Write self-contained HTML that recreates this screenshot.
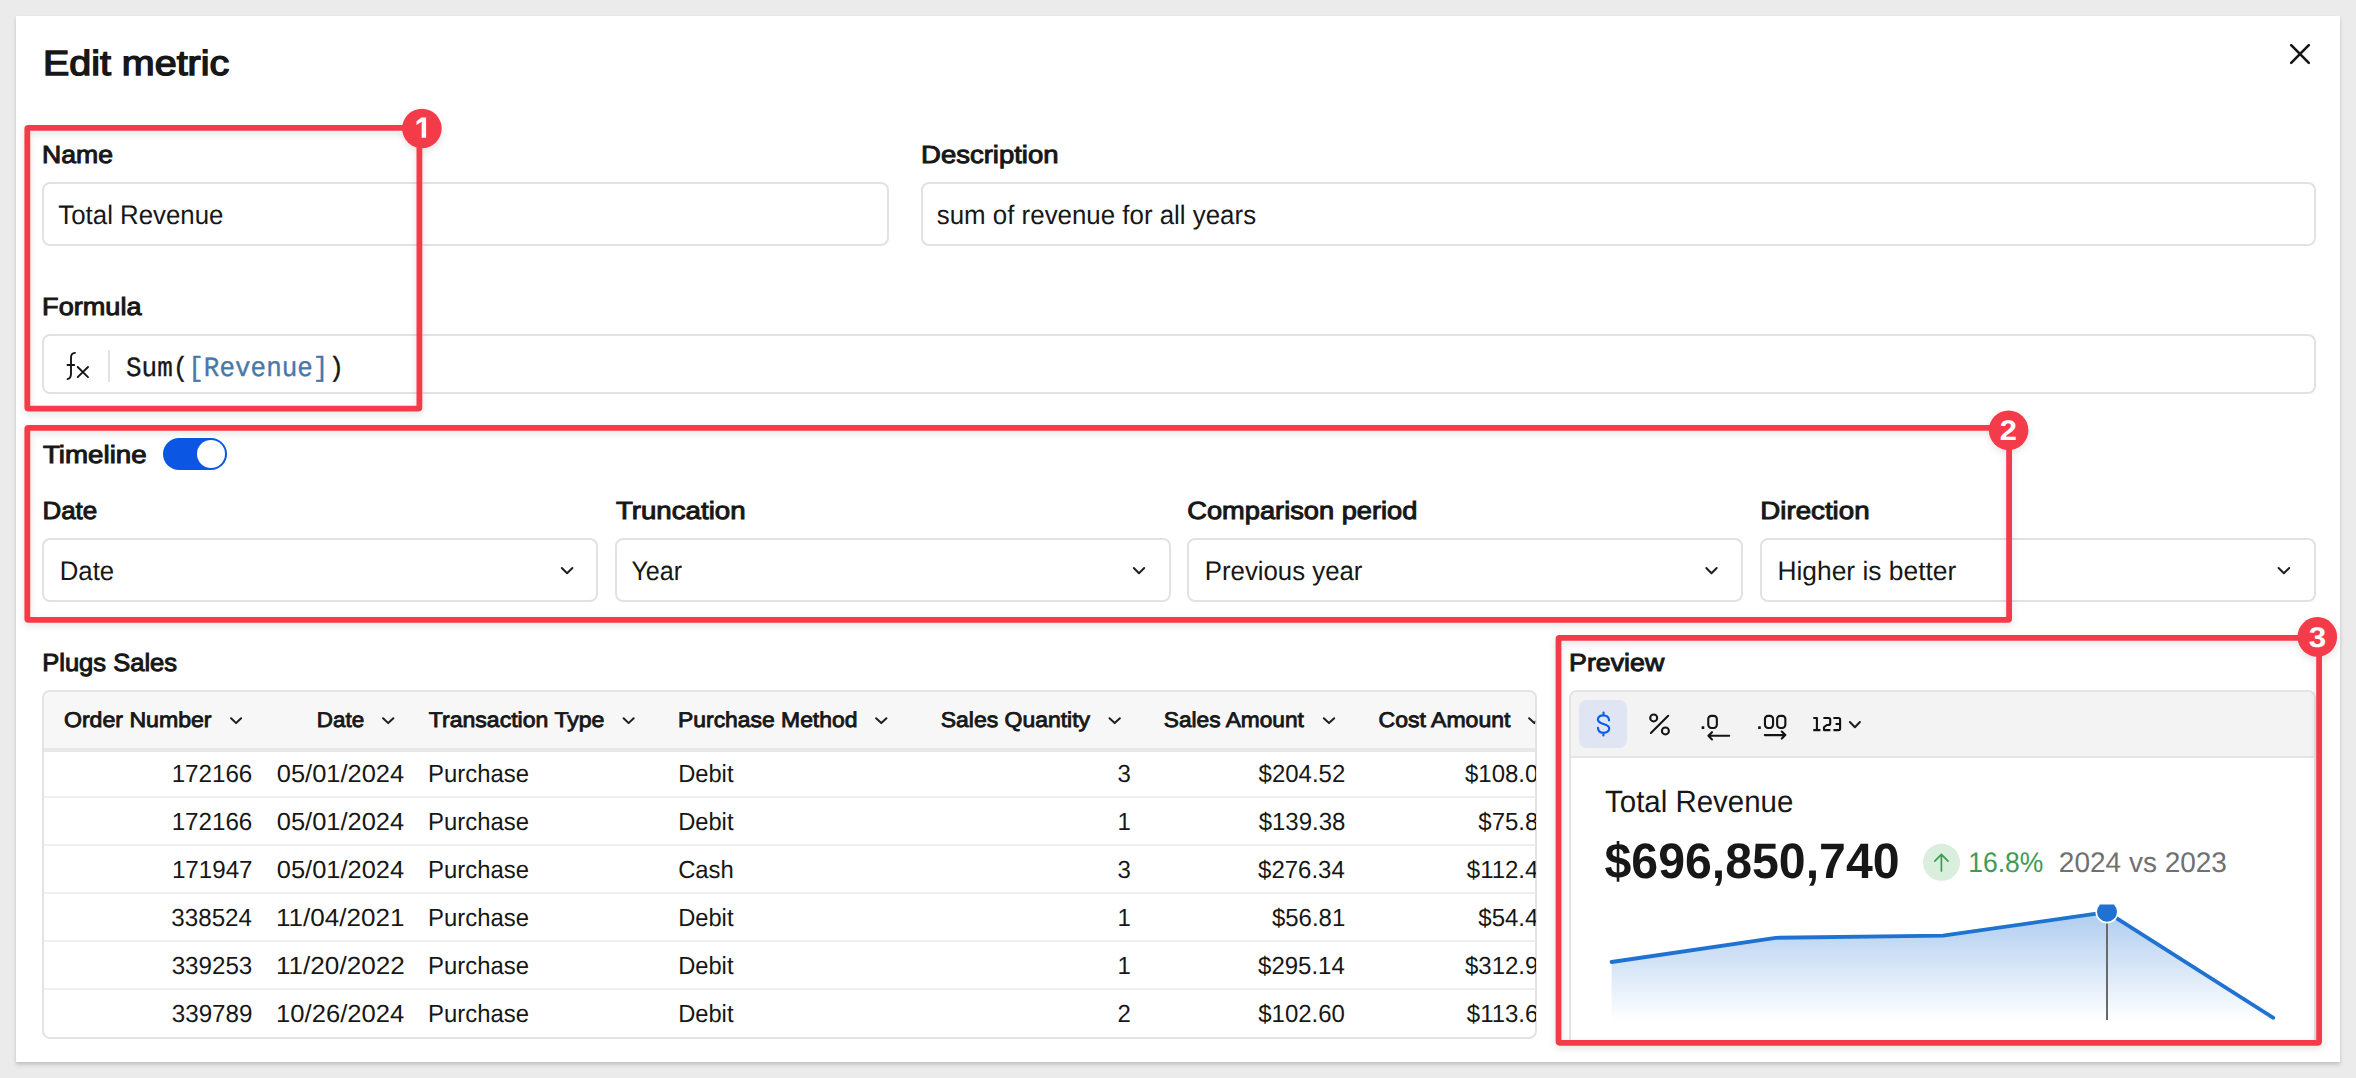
<!DOCTYPE html><html><head><meta charset="utf-8"><title>Edit metric</title><style>
html,body{margin:0;padding:0}
body{width:2356px;height:1078px;overflow:hidden;background:#ebebeb;position:relative;font-family:"Liberation Sans",sans-serif;color:#171717;text-rendering:geometricPrecision}
.modal{position:absolute;left:16px;top:16px;width:2324px;height:1046px;background:#fff;box-shadow:0 3px 4px rgba(0,0,0,.14),0 1px 3px rgba(0,0,0,.05)}
.box{position:absolute;box-sizing:border-box;border:2px solid #e2e2e2;border-radius:8px;background:#fff}
.t{position:absolute;white-space:nowrap;line-height:1;transform-origin:0 0;display:block}
.clip{position:absolute;left:0;top:0;height:1078px;overflow:hidden}
.clip .t{}
svg{position:absolute;left:0;top:0}
.tbl{position:absolute;left:42px;top:690px;width:1495px;height:349px;box-sizing:border-box;border:2px solid #e3e3e3;border-radius:8px;overflow:hidden;background:#fff}
.th{position:absolute;left:0;top:0;right:0;height:56px;background:#f7f7f7;border-bottom:4px solid #e8e8e8}
.rl{position:absolute;left:0;right:0;height:2px;background:#efefef}
.pv{position:absolute;left:1569px;top:690px;width:747px;height:353px;box-sizing:border-box;border:2px solid #e3e3e3;border-bottom:none;border-radius:8px 8px 0 0;overflow:hidden;background:#fff}
.tb{position:absolute;left:0;top:0;right:0;height:64px;background:#f3f3f3;border-bottom:2px solid #e4e4e4}
.cur{position:absolute;left:1579px;top:700px;width:48px;height:48px;border-radius:8px;background:#dfe5f3}
.tog{position:absolute;left:163px;top:438px;width:64px;height:32px;border-radius:16px;background:#0b57e3}
.tog i{position:absolute;left:34px;top:2px;width:28px;height:28px;border-radius:14px;background:#fff}
.dv{position:absolute;left:108px;top:350px;width:2px;height:32px;background:#e2e2e2}
</style></head><body>
<div class="modal"></div>
<div class="box" style="left:42px;top:182px;width:847px;height:64px"></div>
<div class="box" style="left:921px;top:182px;width:1395px;height:64px"></div>
<div class="box" style="left:42px;top:334px;width:2274px;height:60px"></div>
<div class="dv"></div>
<div class="box" style="left:42px;top:538px;width:556px;height:64px"></div>
<div class="box" style="left:615px;top:538px;width:556px;height:64px"></div>
<div class="box" style="left:1187px;top:538px;width:556px;height:64px"></div>
<div class="box" style="left:1760px;top:538px;width:556px;height:64px"></div>
<div class="tog"><i></i></div>
<div class="tbl"><div class="th"></div><div class="rl" style="top:104px"></div><div class="rl" style="top:152px"></div><div class="rl" style="top:200px"></div><div class="rl" style="top:248px"></div><div class="rl" style="top:296px"></div></div>
<div class="pv"><div class="tb"></div></div><div class="cur"></div>
<svg width="2356" height="1078" viewBox="0 0 2356 1078"><defs><linearGradient id="ag" x1="0" y1="912" x2="0" y2="1021" gradientUnits="userSpaceOnUse"><stop offset="0" stop-color="#1f72d2" stop-opacity=".36"/><stop offset="1" stop-color="#1f72d2" stop-opacity="0"/></linearGradient><filter id="ds" x="-5%" y="-5%" width="110%" height="115%"><feDropShadow dx="0" dy="3" stdDeviation="3.5" flood-color="#000" flood-opacity=".11"/></filter><clipPath id="cc"><rect x="1571" y="904.4" width="743" height="140"/></clipPath></defs><path d="M2291.2 45.2L2308.8 62.8M2308.8 45.2L2291.2 62.8" stroke="#161616" stroke-width="2.6" stroke-linecap="round"/><path d="M75 352.9C72.400 353.100 71 354.600 71 357.600V373.400C71 377 69.600 378.600 67.500 379.100M67.500 365H74.200" fill="none" stroke="#161616" stroke-width="1.9" stroke-linecap="round"/><path d="M77.700 367L88 377.100M88 367L77.700 377.100" stroke="#161616" stroke-width="1.9" stroke-linecap="round"/><path d="M561.8 568.0L567.1 573.2L572.4 568.0" fill="none" stroke="#1f1f1f" stroke-width="2" stroke-linecap="round" stroke-linejoin="round"/><path d="M1133.8 568.0L1139.0 573.2L1144.2 568.0" fill="none" stroke="#1f1f1f" stroke-width="2" stroke-linecap="round" stroke-linejoin="round"/><path d="M1706.3 568.0L1711.5 573.2L1716.7 568.0" fill="none" stroke="#1f1f1f" stroke-width="2" stroke-linecap="round" stroke-linejoin="round"/><path d="M2278.6 568.0L2283.9 573.2L2289.2 568.0" fill="none" stroke="#1f1f1f" stroke-width="2" stroke-linecap="round" stroke-linejoin="round"/><g clip-path="url(#tc)"><clipPath id="tc"><rect x="44" y="692" width="1491.3" height="345"/></clipPath><path d="M231.1 718.2L236.1 723.1L241.1 718.2" fill="none" stroke="#1f1f1f" stroke-width="2" stroke-linecap="round" stroke-linejoin="round"/><path d="M383.1 718.2L388.2 723.1L393.4 718.2" fill="none" stroke="#1f1f1f" stroke-width="2" stroke-linecap="round" stroke-linejoin="round"/><path d="M623.6 718.2L628.6 723.1L633.7 718.2" fill="none" stroke="#1f1f1f" stroke-width="2" stroke-linecap="round" stroke-linejoin="round"/><path d="M876.1 718.2L881.3 723.1L886.5 718.2" fill="none" stroke="#1f1f1f" stroke-width="2" stroke-linecap="round" stroke-linejoin="round"/><path d="M1109.5 718.2L1114.7 723.1L1119.9 718.2" fill="none" stroke="#1f1f1f" stroke-width="2" stroke-linecap="round" stroke-linejoin="round"/><path d="M1323.8 718.2L1329.0 723.1L1334.2 718.2" fill="none" stroke="#1f1f1f" stroke-width="2" stroke-linecap="round" stroke-linejoin="round"/><path d="M1529.1 718.2L1534.3 723.1L1539.5 718.2" fill="none" stroke="#1f1f1f" stroke-width="2" stroke-linecap="round" stroke-linejoin="round"/></g><path d="M1609 720.300C1609 717.300 1606.600 715.300 1603.400 715.300C1600.200 715.300 1597.900 717 1597.900 719.600C1597.900 725.400 1609.200 722.600 1609.200 728.600C1609.200 731.100 1606.800 732.800 1603.400 732.800C1600 732.800 1598 730.700 1598 727.800M1603.500 712.600V715.200M1603.400 732.900V735.500" fill="none" stroke="#0d5be8" stroke-width="2.15" stroke-linecap="round" stroke-linejoin="round"/><circle cx="1653.7" cy="717.9" r="3.5" fill="none" stroke="#141414" stroke-width="2.05"/><circle cx="1665.4" cy="730.9" r="3.5" fill="none" stroke="#141414" stroke-width="2.05"/><path d="M1650.900 733L1668.200 715.800" stroke="#141414" stroke-width="2.05" stroke-linecap="round"/><rect x="1701.6" y="726.3" width="2.7" height="2.7" rx=".5" fill="#141414"/><rect x="1708.25" y="715.85" width="8.60" height="12.10" rx="3.1" fill="none" stroke="#141414" stroke-width="2.1"/><path d="M1729.200 735.800H1708.800M1712 732.200L1708.400 735.800L1712 739.400" fill="none" stroke="#141414" stroke-width="2.1" stroke-linecap="round" stroke-linejoin="round"/><rect x="1758.1" y="726.3" width="2.7" height="2.7" rx=".5" fill="#141414"/><rect x="1764.95" y="715.85" width="8.10" height="12.10" rx="3.1" fill="none" stroke="#141414" stroke-width="2.1"/><rect x="1777.15" y="715.85" width="8.20" height="12.10" rx="3.1" fill="none" stroke="#141414" stroke-width="2.1"/><path d="M1764.800 735.100H1785M1781.800 731.600L1785.300 735.100L1781.800 738.600" fill="none" stroke="#141414" stroke-width="2.1" stroke-linecap="round" stroke-linejoin="round"/><path d="M1813.300 718H1816.900V730.100M1813.300 730.100H1820.400M1823.400 718H1828.600Q1830.200 718 1830.200 719.600V723.200Q1830.200 725 1828.200 725H1826.800L1824 727.300V730.100H1830.400M1833.400 718H1838.400Q1840.100 718 1840.100 719.700V728.400Q1840.100 730.100 1838.400 730.100H1833.400M1835.600 724H1840.100" fill="none" stroke="#111" stroke-width="2.1" stroke-linecap="butt" stroke-linejoin="round"/><path d="M1849.9 722.0L1854.9 727.2L1859.9 722.0" fill="none" stroke="#1f1f1f" stroke-width="2" stroke-linecap="round" stroke-linejoin="round"/><circle cx="1941.5" cy="862.3" r="18.5" fill="#daeedd"/><path d="M1941.4 871V854.600M1934.800 861.200L1941.400 854.400L1948 861.200" fill="none" stroke="#3f9c52" stroke-width="1.7" stroke-linecap="round" stroke-linejoin="round"/><g clip-path="url(#cc)"><polygon points="1611.6,962 1775.8,937.8 1943,935.6 2107,912.2 2273.3,1017.8 2273.3,1021 1611.6,1021" fill="url(#ag)"/><polyline points="1611.6,962 1775.8,937.8 1943,935.6 2107,912.2 2273.3,1017.8" fill="none" stroke="#1f72d2" stroke-width="3.8" stroke-linecap="round" stroke-linejoin="round"/><rect x="2106" y="912" width="2" height="108" fill="#6a6a6a"/><circle cx="2107" cy="911.8" r="10.8" fill="#1f72d2" stroke="#fff" stroke-width="1.6"/></g><g filter="url(#ds)"><rect x="27.30" y="127.90" width="392.10" height="280.80" rx="1.2" fill="none" stroke="#f43b48" stroke-width="5.8"/><circle cx="421.9" cy="128.5" r="19.8" fill="#f43b48"/><rect x="27.30" y="427.90" width="1981.80" height="192.00" rx="1.2" fill="none" stroke="#f43b48" stroke-width="5.8"/><circle cx="2008.6" cy="430.2" r="19.8" fill="#f43b48"/><rect x="1558.50" y="637.90" width="760.60" height="404.90" rx="1.2" fill="none" stroke="#f43b48" stroke-width="5.8"/><circle cx="2317.3" cy="636.9" r="19.8" fill="#f43b48"/></g><path d="M421.4 117.500H426.100V137.700H421.700V121.700L416.500 125V121.200Z" fill="#fff"/></svg>
<span class="t" style="left:42px;top:47px;font-size:34.82px;transform:translateX(0.90px) scaleX(1.1332);-webkit-text-stroke-width:1.39px;">Edit metric</span>
<span class="t" style="left:42px;top:144px;font-size:24.79px;transform:translateX(0.12px) scaleX(1.0722);-webkit-text-stroke-width:0.99px;">Name</span>
<span class="t" style="left:921px;top:144px;font-size:24.79px;transform:translateX(0.04px) scaleX(1.1093);-webkit-text-stroke-width:0.99px;">Description</span>
<span class="t" style="left:42px;top:296px;font-size:24.79px;transform:translateX(0.11px) scaleX(1.0932);-webkit-text-stroke-width:0.99px;">Formula</span>
<span class="t" style="left:42px;top:444px;font-size:24.79px;transform:translateX(0.93px) scaleX(1.1185);-webkit-text-stroke-width:0.99px;">Timeline</span>
<span class="t" style="left:42px;top:500px;font-size:24.79px;transform:translateX(0.40px) scaleX(1.0468);-webkit-text-stroke-width:0.99px;">Date</span>
<span class="t" style="left:615px;top:500px;font-size:24.79px;transform:translateX(0.92px) scaleX(1.1159);-webkit-text-stroke-width:0.99px;">Truncation</span>
<span class="t" style="left:1187px;top:500px;font-size:24.79px;transform:translateX(0.29px) scaleX(1.0988);-webkit-text-stroke-width:0.99px;">Comparison period</span>
<span class="t" style="left:1760px;top:500px;font-size:24.79px;transform:translateX(0.26px) scaleX(1.1175);-webkit-text-stroke-width:0.99px;">Direction</span>
<span class="t" style="left:42px;top:652px;font-size:24.79px;transform:translateX(0.16px) scaleX(1.0310);-webkit-text-stroke-width:0.99px;">Plugs Sales</span>
<span class="t" style="left:1569px;top:652px;font-size:24.79px;transform:translateX(0.03px) scaleX(1.0799);-webkit-text-stroke-width:0.99px;">Preview</span>
<span class="t" style="left:58px;top:202px;font-size:26.74px;transform:translateX(0.33px) scaleX(0.9658);">Total Revenue</span>
<span class="t" style="left:936px;top:202px;font-size:26.74px;transform:translateX(0.78px) scaleX(0.9679);">sum of revenue for all years</span>
<span class="t" style="left:59px;top:558px;font-size:26.74px;transform:translateX(0.76px) scaleX(0.9636);">Date</span>
<span class="t" style="left:631px;top:558px;font-size:26.74px;transform:translateX(0.42px) scaleX(0.9398);">Year</span>
<span class="t" style="left:1204px;top:558px;font-size:26.74px;transform:translateX(0.77px) scaleX(0.9646);">Previous year</span>
<span class="t" style="left:1777px;top:558px;font-size:26.74px;transform:translateX(0.45px) scaleX(0.9862);">Higher is better</span>
<span class="t" style="left:126px;top:356px;font-size:27.73px;transform:translateX(0.04px) scaleX(0.9357);-webkit-text-stroke-width:0.35px;font-family:'Liberation Mono',monospace;">Sum(<span style="color:#4878a8">[Revenue]</span>)</span>
<span class="t" style="left:63px;top:710px;font-size:21.36px;transform:translateX(0.92px) scaleX(1.0816);-webkit-text-stroke-width:0.85px;">Order Number</span>
<span class="t" style="left:316px;top:710px;font-size:21.36px;transform:translateX(0.81px) scaleX(1.0477);-webkit-text-stroke-width:0.85px;">Date</span>
<span class="t" style="left:428px;top:710px;font-size:21.36px;transform:translateX(0.72px) scaleX(1.0801);-webkit-text-stroke-width:0.85px;">Transaction Type</span>
<span class="t" style="left:678px;top:710px;font-size:21.36px;transform:translateX(0.09px) scaleX(1.0709);-webkit-text-stroke-width:0.85px;">Purchase Method</span>
<span class="t" style="left:940px;top:710px;font-size:21.36px;transform:translateX(0.79px) scaleX(1.0740);-webkit-text-stroke-width:0.85px;">Sales Quantity</span>
<span class="t" style="left:1163px;top:710px;font-size:21.36px;transform:translateX(0.79px) scaleX(1.0629);-webkit-text-stroke-width:0.85px;">Sales Amount</span>
<span class="t" style="left:1378px;top:710px;font-size:21.36px;transform:translateX(0.59px) scaleX(1.0782);-webkit-text-stroke-width:0.85px;">Cost Amount</span>
<span class="t" style="left:171px;top:763px;font-size:24.71px;transform:translateX(0.65px) scaleX(0.9783);">172166</span>
<span class="t" style="left:276px;top:763px;font-size:24.71px;transform:translateX(0.82px) scaleX(1.0299);">05/01/2024</span>
<span class="t" style="left:428px;top:763px;font-size:24.71px;transform:translateX(0.12px) scaleX(0.9659);">Purchase</span>
<span class="t" style="left:678px;top:763px;font-size:24.71px;transform:translateX(0.15px) scaleX(0.9592);">Debit</span>
<span class="t" style="left:1117px;top:763px;font-size:24.71px;transform:translateX(0.43px) scaleX(0.9705);">3</span>
<span class="t" style="left:1258px;top:763px;font-size:24.71px;transform:translateX(0.60px) scaleX(0.9705);">$204.52</span>
<div class="clip" style="width:1535.5px"><span class="t" style="left:1465px;top:763px;font-size:24.71px;transform:translateX(0.03px) scaleX(0.9705);">$108.0</span></div>
<span class="t" style="left:171px;top:811px;font-size:24.71px;transform:translateX(0.65px) scaleX(0.9783);">172166</span>
<span class="t" style="left:276px;top:811px;font-size:24.71px;transform:translateX(0.82px) scaleX(1.0299);">05/01/2024</span>
<span class="t" style="left:428px;top:811px;font-size:24.71px;transform:translateX(0.12px) scaleX(0.9659);">Purchase</span>
<span class="t" style="left:678px;top:811px;font-size:24.71px;transform:translateX(0.15px) scaleX(0.9592);">Debit</span>
<span class="t" style="left:1117px;top:811px;font-size:24.71px;transform:translateX(0.45px) scaleX(0.9705);">1</span>
<span class="t" style="left:1258px;top:811px;font-size:24.71px;transform:translateX(0.67px) scaleX(0.9705);">$139.38</span>
<div class="clip" style="width:1535.5px"><span class="t" style="left:1478px;top:811px;font-size:24.71px;transform:translateX(0.35px) scaleX(0.9705);">$75.8</span></div>
<span class="t" style="left:171px;top:859px;font-size:24.71px;transform:translateX(0.90px) scaleX(0.9783);">171947</span>
<span class="t" style="left:276px;top:859px;font-size:24.71px;transform:translateX(0.82px) scaleX(1.0299);">05/01/2024</span>
<span class="t" style="left:428px;top:859px;font-size:24.71px;transform:translateX(0.12px) scaleX(0.9659);">Purchase</span>
<span class="t" style="left:678px;top:859px;font-size:24.71px;transform:translateX(0.15px) scaleX(0.9630);">Cash</span>
<span class="t" style="left:1117px;top:859px;font-size:24.71px;transform:translateX(0.43px) scaleX(0.9705);">3</span>
<span class="t" style="left:1258px;top:859px;font-size:24.71px;transform:translateX(0.09px) scaleX(0.9705);">$276.34</span>
<div class="clip" style="width:1535.5px"><span class="t" style="left:1466px;top:859px;font-size:24.71px;transform:translateX(0.80px) scaleX(0.9705);">$112.4</span></div>
<span class="t" style="left:171px;top:907px;font-size:24.71px;transform:translateX(0.35px) scaleX(0.9783);">338524</span>
<span class="t" style="left:275px;top:907px;font-size:24.71px;transform:translateX(0.97px) scaleX(1.0545);">11/04/2021</span>
<span class="t" style="left:428px;top:907px;font-size:24.71px;transform:translateX(0.12px) scaleX(0.9659);">Purchase</span>
<span class="t" style="left:678px;top:907px;font-size:24.71px;transform:translateX(0.15px) scaleX(0.9592);">Debit</span>
<span class="t" style="left:1117px;top:907px;font-size:24.71px;transform:translateX(0.45px) scaleX(0.9705);">1</span>
<span class="t" style="left:1271px;top:907px;font-size:24.71px;transform:translateX(0.92px) scaleX(0.9705);">$56.81</span>
<div class="clip" style="width:1535.5px"><span class="t" style="left:1478px;top:907px;font-size:24.71px;transform:translateX(0.35px) scaleX(0.9705);">$54.4</span></div>
<span class="t" style="left:171px;top:955px;font-size:24.71px;transform:translateX(0.66px) scaleX(0.9783);">339253</span>
<span class="t" style="left:275px;top:955px;font-size:24.71px;transform:translateX(0.96px) scaleX(1.0577);">11/20/2022</span>
<span class="t" style="left:428px;top:955px;font-size:24.71px;transform:translateX(0.12px) scaleX(0.9659);">Purchase</span>
<span class="t" style="left:678px;top:955px;font-size:24.71px;transform:translateX(0.15px) scaleX(0.9592);">Debit</span>
<span class="t" style="left:1117px;top:955px;font-size:24.71px;transform:translateX(0.45px) scaleX(0.9705);">1</span>
<span class="t" style="left:1258px;top:955px;font-size:24.71px;transform:translateX(0.09px) scaleX(0.9705);">$295.14</span>
<div class="clip" style="width:1535.5px"><span class="t" style="left:1465px;top:955px;font-size:24.71px;transform:translateX(0.03px) scaleX(0.9705);">$312.9</span></div>
<span class="t" style="left:171px;top:1003px;font-size:24.71px;transform:translateX(0.80px) scaleX(0.9783);">339789</span>
<span class="t" style="left:276px;top:1003px;font-size:24.71px;transform:translateX(0.06px) scaleX(1.0364);">10/26/2024</span>
<span class="t" style="left:428px;top:1003px;font-size:24.71px;transform:translateX(0.12px) scaleX(0.9659);">Purchase</span>
<span class="t" style="left:678px;top:1003px;font-size:24.71px;transform:translateX(0.15px) scaleX(0.9592);">Debit</span>
<span class="t" style="left:1117px;top:1003px;font-size:24.71px;transform:translateX(0.50px) scaleX(0.9705);">2</span>
<span class="t" style="left:1258px;top:1003px;font-size:24.71px;transform:translateX(0.28px) scaleX(0.9705);">$102.60</span>
<div class="clip" style="width:1535.5px"><span class="t" style="left:1466px;top:1003px;font-size:24.71px;transform:translateX(0.80px) scaleX(0.9705);">$113.6</span></div>
<span class="t" style="left:1605px;top:787px;font-size:30.81px;transform:translateX(0.02px) scaleX(0.9564);">Total Revenue</span>
<span class="t" style="left:1604px;top:837px;font-size:49.85px;transform:translateX(0.47px) scaleX(0.9679);font-weight:700;">$696,850,740</span>
<span class="t" style="left:1968px;top:849px;font-size:28.34px;transform:translateX(0.23px) scaleX(0.9343);color:#3f9c52;">16.8%</span>
<span class="t" style="left:2058px;top:849px;font-size:28.34px;transform:translateX(0.86px) scaleX(0.9879);color:#707070;">2024 vs 2023</span>
<span class="t" style="left:1999px;top:417px;font-size:28.40px;transform:translateX(0.81px) scaleX(1.0897);font-weight:700;color:#ffffff;">2</span>
<span class="t" style="left:2308px;top:624px;font-size:28.40px;transform:translateX(0.78px) scaleX(1.1061);font-weight:700;color:#ffffff;">3</span>
</body></html>
